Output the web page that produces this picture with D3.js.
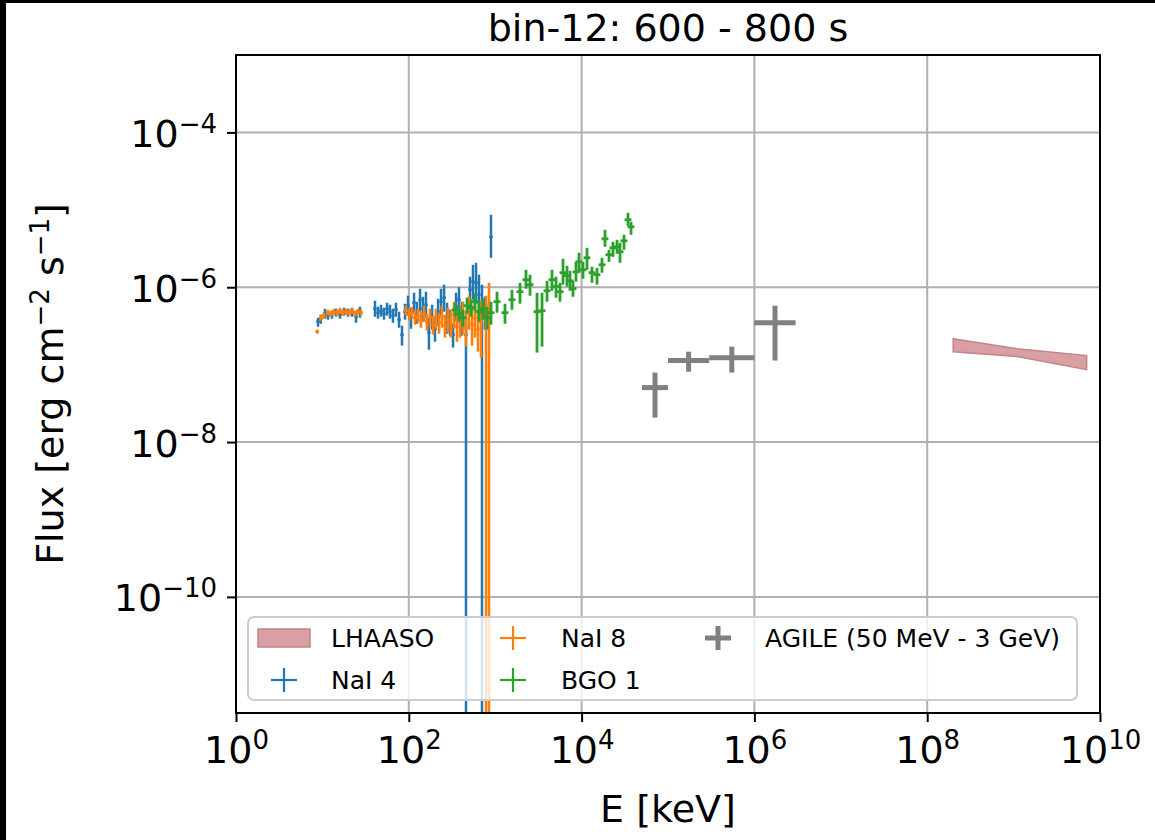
<!DOCTYPE html>
<html>
<head>
<meta charset="utf-8">
<script src="https://cdn.jsdelivr.net/npm/d3@7"></script>
<style>
  body { margin: 0; background: #fff; }
  svg { display: block; }
  text { font-family: "DejaVu Sans", sans-serif; fill: #000; }
</style>
</head>
<body>
<svg id="chart" width="1155" height="840"></svg>
<script>
// ---- data -------------------------------------------------------------
const titleText = "bin-12: 600 - 800 s";
const xTickExponents = [0, 2, 4, 6, 8, 10];
const yTickExponents = [-4, -6, -8, -10];
const xDomain = [1, 1e10];                 // keV
const yDomain = [Math.pow(10, -11.5), 1e-3]; // erg cm^-2 s^-1

// Energy channels are log-spaced: half-width of each channel in dex
const naiHalfWidthDex = 0.02;
const bgoHalfWidthDex = 0.04;

// rows: [E (keV), flux, flux lower bound, flux upper bound]; a lower bound of 0 means the bar reaches below zero
const nai4 = [
  [8.9,3.59e-7,3.09e-7,4.04e-7],[9.6,3.92e-7,3.38e-7,4.42e-7],[10.7,4.55e-7,3.92e-7,5.28e-7],
  [11.6,4.29e-7,3.81e-7,4.83e-7],[12.9,4.42e-7,3.92e-7,4.97e-7],[14.4,4.69e-7,4.16e-7,5.28e-7],
  [16.0,4.42e-7,3.92e-7,4.97e-7],[17.8,4.83e-7,4.29e-7,5.44e-7],[19.8,4.69e-7,4.16e-7,5.28e-7],
  [22.0,4.83e-7,4.16e-7,5.44e-7],[24.5,4.16e-7,3.48e-7,4.97e-7],[27.2,4.83e-7,4.04e-7,5.60e-7],
  [40.6,5.28e-7,4.16e-7,6.69e-7],[44.0,4.69e-7,3.92e-7,5.60e-7],[47.7,4.97e-7,4.16e-7,5.94e-7],
  [51.6,4.55e-7,3.81e-7,5.44e-7],[56.0,5.28e-7,4.29e-7,6.31e-7],[60.6,4.83e-7,3.92e-7,5.94e-7],
  [65.6,4.29e-7,3.48e-7,5.28e-7],[71.1,5.12e-7,4.16e-7,6.31e-7],[77.1,3.81e-7,3.00e-7,4.83e-7],
  [83.4,2.44e-7,1.76e-7,3.19e-7],[90.4,4.83e-7,3.81e-7,6.12e-7],[97.9,5.77e-7,4.29e-7,7.77e-7],
  [106,4.04e-7,2.91e-7,5.44e-7],[115,6.31e-7,4.55e-7,8.49e-7],[124,4.69e-7,3.38e-7,6.50e-7],
  [135,6.90e-7,4.83e-7,9.56e-7],[146,5.28e-7,3.59e-7,7.54e-7],[158,5.94e-7,4.04e-7,8.75e-7],
  [171,2.59e-7,1.56e-7,4.04e-7],[186,4.16e-7,2.83e-7,5.94e-7],[201,2.91e-7,1.98e-7,4.16e-7],
  [218,4.83e-7,3.19e-7,7.10e-7],[236,6.50e-7,4.29e-7,9.56e-7],[256,7.32e-7,4.83e-7,1.08e-6],
  [277,4.04e-7,2.51e-7,6.31e-7],[300,3.59e-7,2.37e-7,5.12e-7],[325,2.44e-7,1.66e-7,3.38e-7],
  [352,5.60e-7,3.59e-7,8.49e-7],[381,6.90e-7,4.55e-7,1.00e-6],[413,4.04e-7,2.37e-7,6.50e-7],
  [459,2.44e-7,0,4.04e-7],[511,9.28e-7,6.12e-7,1.37e-6],[553,1.18e-6,6.90e-7,1.95e-6],
  [600,1.14e-6,6.12e-7,2.07e-6],[649,8.00e-7,4.04e-7,1.45e-6],[703,5.94e-7,0,1.08e-6],
  [762,4.69e-7,2.83e-7,7.54e-7],[894,4.48e-6,2.40e-6,8.62e-6]
];

const nai8 = [
  [8.7,2.67e-7,2.51e-7,2.83e-7],[9.6,4.04e-7,3.70e-7,4.42e-7],[10.4,4.29e-7,3.92e-7,4.69e-7],
  [11.6,4.69e-7,4.29e-7,5.12e-7],[12.6,4.55e-7,4.16e-7,4.97e-7],[13.6,4.83e-7,4.42e-7,5.28e-7],
  [14.8,4.69e-7,4.29e-7,5.12e-7],[16.0,4.97e-7,4.55e-7,5.44e-7],[17.3,4.69e-7,4.29e-7,5.12e-7],
  [18.8,4.83e-7,4.42e-7,5.28e-7],[20.3,4.69e-7,4.29e-7,5.12e-7],[22.0,4.97e-7,4.55e-7,5.44e-7],
  [23.8,4.55e-7,4.16e-7,4.97e-7],[25.8,4.83e-7,4.42e-7,5.28e-7],[28.0,4.69e-7,4.29e-7,5.12e-7],
  [92.8,4.97e-7,4.29e-7,5.77e-7],[101,4.42e-7,3.70e-7,5.28e-7],[109,4.69e-7,3.92e-7,5.60e-7],
  [118,4.04e-7,3.28e-7,4.97e-7],[128,4.29e-7,3.48e-7,5.28e-7],[138,3.81e-7,3.00e-7,4.83e-7],
  [150,4.55e-7,3.59e-7,5.77e-7],[162,3.59e-7,2.75e-7,4.55e-7],[176,4.04e-7,3.09e-7,5.28e-7],
  [191,3.28e-7,2.44e-7,4.29e-7],[206,3.92e-7,2.91e-7,5.28e-7],[224,3.48e-7,2.51e-7,4.69e-7],
  [242,4.16e-7,3.00e-7,5.77e-7],[262,3.19e-7,2.23e-7,4.42e-7],[284,3.81e-7,2.59e-7,5.44e-7],
  [308,3.38e-7,2.23e-7,4.97e-7],[334,4.42e-7,2.91e-7,6.50e-7],[361,3.09e-7,1.98e-7,4.69e-7],
  [391,3.59e-7,2.23e-7,5.60e-7],[424,4.04e-7,2.44e-7,6.50e-7],[459,3.00e-7,1.71e-7,4.97e-7],
  [497,4.83e-7,2.83e-7,7.77e-7],[539,3.28e-7,1.76e-7,5.77e-7],[583,4.04e-7,2.23e-7,6.90e-7],
  [632,2.83e-7,1.47e-7,5.12e-7],[685,3.59e-7,1.23e-7,6.50e-7],[783,3.81e-7,0,7.77e-7],
  [848,5.94e-7,0,1.14e-6]
];

const bgo1 = [
  [343,5.12e-7,4.16e-7,6.31e-7],[381,4.55e-7,3.59e-7,5.77e-7],[424,4.04e-7,3.09e-7,5.12e-7],
  [472,5.77e-7,4.55e-7,7.32e-7],[525,5.44e-7,4.16e-7,6.90e-7],[583,6.50e-7,4.97e-7,8.49e-7],
  [649,4.83e-7,3.59e-7,6.50e-7],[722,5.28e-7,3.81e-7,7.10e-7],[804,4.04e-7,2.83e-7,5.60e-7],
  [894,4.69e-7,3.28e-7,6.50e-7],[1050,6.50e-7,4.69e-7,8.75e-7],[1298,4.69e-7,3.38e-7,6.12e-7],
  [1563,6.90e-7,5.12e-7,9.28e-7],[1936,8.75e-7,6.12e-7,1.14e-6],[2271,1.25e-6,9.56e-7,1.68e-6],
  [2528,1.08e-6,7.77e-7,1.45e-6],[3048,4.83e-7,1.43e-7,8.49e-7],[3483,4.97e-7,1.71e-7,8.49e-7],
  [3981,9.01e-7,6.50e-7,1.21e-6],[4543,1.25e-6,9.01e-7,1.68e-6],[5058,1.02e-6,7.32e-7,1.37e-6],
  [5623,8.75e-7,6.50e-7,1.14e-6],[6095,1.54e-6,1.08e-6,2.33e-6],[6780,1.41e-6,1.02e-6,1.89e-6],
  [7340,1.21e-6,9.01e-7,1.63e-6],[7950,9.56e-7,7.54e-7,1.21e-6],[8610,1.58e-6,1.18e-6,2.13e-6],
  [9330,2.13e-6,1.54e-6,2.79e-6],[10380,1.68e-6,1.29e-6,2.13e-6],[11550,2.40e-6,1.68e-6,3.23e-6],
  [13190,1.54e-6,1.14e-6,1.84e-6],[15070,1.45e-6,1.08e-6,1.78e-6],[17220,1.95e-6,1.54e-6,2.40e-6],
  [18650,4.22e-6,3.33e-6,5.52e-6],[20750,2.63e-6,2.13e-6,3.05e-6],[23080,3.23e-6,2.47e-6,3.86e-6],
  [25700,3.33e-6,2.71e-6,4.10e-6],[27820,2.87e-6,2.07e-6,3.75e-6],[30960,3.98e-6,3.05e-6,4.76e-6],
  [34440,7.43e-6,6.22e-6,9.14e-6],[37320,6.03e-6,4.76e-6,7.00e-6]
];

// AGILE rows: [E min (keV), E max (keV), flux, flux lower bound, flux upper bound]
const agile = [
  [5e4, 1e5, 5.05e-8, 2.07e-8, 7.9e-8],
  [1e5, 3e5, 1.13e-7, 8.1e-8, 1.47e-7],
  [3e5, 1e6, 1.23e-7, 7.9e-8, 1.71e-7],
  [1e6, 3e6, 3.48e-7, 1.13e-7, 5.77e-7]
];

// LHAASO spectral band
const lhaasoEnergy = [2e8, 1.1e9, 7e9];
const lhaasoLow = [1.47e-7, 1.27e-7, 8.6e-8];
const lhaasoHigh = [2.16e-7, 1.61e-7, 1.31e-7];

const seriesNames = ["LHAASO", "NaI 4", "NaI 8", "BGO 1", "AGILE (50 MeV - 3 GeV)"];

// ---- layout -----------------------------------------------------------
const W = 1155, H = 840;
const plotLeft = 236, plotRight = 1100, plotTop = 55, plotBottom = 713;
const colors = { nai4: "#1f77b4", nai8: "#ff7f0e", bgo1: "#2ca02c", agile: "#808080",
                 bandFill: "#d9a0a4", bandEdge: "#c0848a", grid: "#b0b0b0" };

const svg = d3.select("#chart");
svg.append("rect").attr("width", W).attr("height", H).attr("fill", "#fff");
svg.append("rect").attr("x", 0).attr("y", 0).attr("width", W).attr("height", 3).attr("fill", "#000");
svg.append("rect").attr("x", 0).attr("y", 0).attr("width", 6).attr("height", H).attr("fill", "#000");

const x = d3.scaleLog().domain(xDomain).range([plotLeft, plotRight]);
const y = d3.scaleLog().domain(yDomain).range([plotBottom, plotTop]);

svg.append("defs").append("clipPath").attr("id", "plotClip")
  .append("rect").attr("x", plotLeft).attr("y", plotTop)
  .attr("width", plotRight - plotLeft).attr("height", plotBottom - plotTop);

// grid
const grid = svg.append("g").attr("stroke", colors.grid).attr("stroke-width", 2);
grid.selectAll("line.gx").data(xTickExponents.map(e => Math.pow(10, e))).join("line")
  .attr("class", "gx").attr("x1", d => x(d)).attr("x2", d => x(d))
  .attr("y1", plotTop).attr("y2", plotBottom);
grid.selectAll("line.gy").data(yTickExponents.map(e => Math.pow(10, e))).join("line")
  .attr("class", "gy").attr("y1", d => y(d)).attr("y2", d => y(d))
  .attr("x1", plotLeft).attr("x2", plotRight);

const data = svg.append("g").attr("clip-path", "url(#plotClip)");

function yLow(v) { return v > 0 ? y(v) : plotBottom + 10; }

function errorbars(rows, color, halfDex, width) {
  const k = Math.pow(10, halfDex);
  const g = data.append("g").attr("stroke", color).attr("stroke-width", width);
  g.selectAll("line.v").data(rows).join("line").attr("class", "v")
    .attr("x1", d => x(d[0])).attr("x2", d => x(d[0]))
    .attr("y1", d => yLow(d[2])).attr("y2", d => y(d[3]));
  g.selectAll("line.h").data(rows).join("line").attr("class", "h")
    .attr("x1", d => x(d[0] / k)).attr("x2", d => x(d[0] * k))
    .attr("y1", d => y(d[1])).attr("y2", d => y(d[1]));
}

errorbars(nai4, colors.nai4, naiHalfWidthDex, 2.5);
errorbars(nai8, colors.nai8, naiHalfWidthDex, 2.6);
errorbars(bgo1, colors.bgo1, bgoHalfWidthDex, 2.8);

// AGILE points with energy bins
const ag = data.append("g").attr("stroke", colors.agile).attr("stroke-width", 5);
ag.selectAll("line.v").data(agile).join("line").attr("class", "v")
  .attr("x1", d => x(Math.sqrt(d[0] * d[1]))).attr("x2", d => x(Math.sqrt(d[0] * d[1])))
  .attr("y1", d => y(d[3])).attr("y2", d => y(d[4]));
ag.selectAll("line.h").data(agile).join("line").attr("class", "h")
  .attr("x1", d => x(d[0])).attr("x2", d => x(d[1]))
  .attr("y1", d => y(d[2])).attr("y2", d => y(d[2]));

// LHAASO band
const band = lhaasoEnergy.map((e, i) => ({ e, lo: lhaasoLow[i], hi: lhaasoHigh[i] }));
data.append("path").datum(band)
  .attr("d", d3.area().x(d => x(d.e)).y0(d => y(d.lo)).y1(d => y(d.hi)))
  .attr("fill", colors.bandFill).attr("stroke", colors.bandEdge).attr("stroke-width", 1.5);

// spines
svg.append("rect").attr("x", plotLeft).attr("y", plotTop)
  .attr("width", plotRight - plotLeft).attr("height", plotBottom - plotTop)
  .attr("fill", "none").attr("stroke", "#000").attr("stroke-width", 2);

// axes
function powerLabel(sel, e) {
  sel.text(null);
  sel.append("tspan").text("10");
  sel.append("tspan").attr("dy", -14).attr("font-size", 26)
    .text(e < 0 ? "\u2212" + Math.abs(e) : String(e));
}

const xAxis = svg.append("g").attr("transform", `translate(0,${plotBottom})`)
  .call(d3.axisBottom(x).tickValues(xTickExponents.map(e => Math.pow(10, e)))
    .tickSize(9).tickSizeOuter(0).tickFormat(() => ""));
xAxis.select(".domain").remove();
xAxis.selectAll(".tick line").attr("stroke", "#000").attr("stroke-width", 2);
xAxis.selectAll(".tick text").each(function (d, i) {
  const t = d3.select(this).attr("y", 50).attr("dy", null).attr("font-size", 38)
    .attr("text-anchor", "middle").attr("fill", "#000");
  powerLabel(t, xTickExponents[i]);
});

const yAxis = svg.append("g").attr("transform", `translate(${plotLeft},0)`)
  .call(d3.axisLeft(y).tickValues(yTickExponents.map(e => Math.pow(10, e)))
    .tickSize(9).tickSizeOuter(0).tickFormat(() => ""));
yAxis.select(".domain").remove();
yAxis.selectAll(".tick line").attr("stroke", "#000").attr("stroke-width", 2);
yAxis.selectAll(".tick text").each(function (d, i) {
  const t = d3.select(this).attr("x", -19).attr("y", 14).attr("dy", null).attr("font-size", 38)
    .attr("text-anchor", "end").attr("fill", "#000");
  powerLabel(t, yTickExponents[i]);
});

// titles
svg.append("text").attr("x", (plotLeft + plotRight) / 2).attr("y", 41)
  .attr("text-anchor", "middle").attr("font-size", 38).text(titleText);
svg.append("text").attr("x", (plotLeft + plotRight) / 2).attr("y", 822)
  .attr("text-anchor", "middle").attr("font-size", 38).text("E [keV]");

const yl = svg.append("text").attr("transform", `translate(63,${(plotTop + plotBottom) / 2}) rotate(-90)`)
  .attr("text-anchor", "middle").attr("font-size", 38);
yl.append("tspan").text("Flux [erg cm");
yl.append("tspan").attr("dy", -14).attr("font-size", 26).text("\u22122");
yl.append("tspan").attr("dy", 14).text(" s");
yl.append("tspan").attr("dy", -14).attr("font-size", 26).text("\u22121");
yl.append("tspan").attr("dy", 14).text("]");

// legend
const lg = svg.append("g");
lg.append("rect").attr("x", 248).attr("y", 617).attr("width", 829).attr("height", 83).attr("rx", 6)
  .attr("fill", "#fff").attr("fill-opacity", 0.8).attr("stroke", "#cccccc").attr("stroke-width", 2);

const legendItems = [
  { name: seriesNames[0], kind: "band", color: colors.bandFill, cx: 284, tx: 331, cy: 638 },
  { name: seriesNames[1], kind: "bar", color: colors.nai4, w: 2.2, cx: 284, tx: 331, cy: 680 },
  { name: seriesNames[2], kind: "bar", color: colors.nai8, w: 2.2, cx: 513, tx: 561, cy: 638 },
  { name: seriesNames[3], kind: "bar", color: colors.bgo1, w: 2.2, cx: 513, tx: 561, cy: 680 },
  { name: seriesNames[4], kind: "bar", color: colors.agile, w: 5, cx: 718, tx: 765, cy: 638 }
];
legendItems.forEach(it => {
  if (it.kind === "band") {
    lg.append("rect").attr("x", it.cx - 26).attr("y", it.cy - 9).attr("width", 52).attr("height", 18)
      .attr("fill", it.color).attr("stroke", colors.bandEdge).attr("stroke-width", 1.5);
  } else {
    lg.append("line").attr("x1", it.cx - 13).attr("x2", it.cx + 13).attr("y1", it.cy).attr("y2", it.cy)
      .attr("stroke", it.color).attr("stroke-width", it.w);
    lg.append("line").attr("x1", it.cx).attr("x2", it.cx).attr("y1", it.cy - 12).attr("y2", it.cy + 12)
      .attr("stroke", it.color).attr("stroke-width", it.w);
  }
  lg.append("text").attr("x", it.tx).attr("y", it.cy + 9).attr("font-size", 25).text(it.name);
});
</script>
</body>
</html>
